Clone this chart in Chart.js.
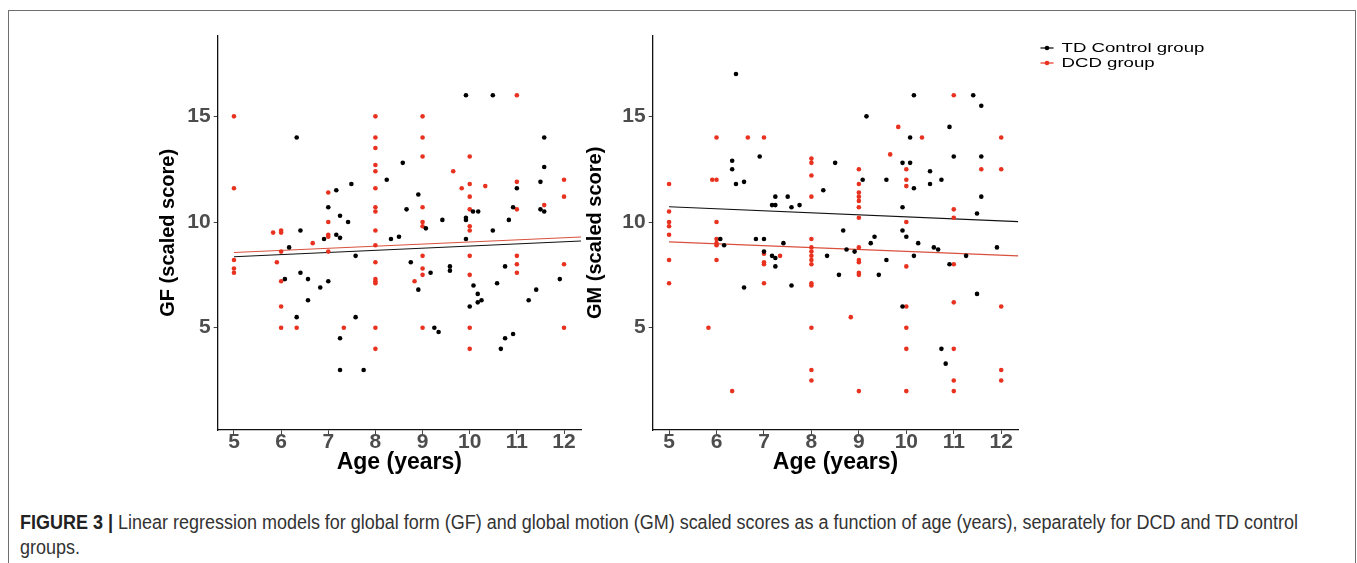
<!DOCTYPE html>
<html>
<head>
<meta charset="utf-8">
<script src="https://cdn.jsdelivr.net/npm/chart.js@4.4.1/dist/chart.umd.min.js"></script>
<style>
html,body{margin:0;padding:0;background:#fff;width:1357px;height:563px;overflow:hidden;}
#frame{position:absolute;left:8px;top:10px;width:1348px;height:620px;border:1px solid #6e6e6e;box-sizing:border-box;}
#w1{position:absolute;left:120px;top:20px;width:470px;height:470px;}
#w2{position:absolute;left:560px;top:20px;width:797px;height:470px;}
#caption{position:absolute;left:20px;top:510px;font-family:"Liberation Sans Narrow","Liberation Sans",Arial,sans-serif;font-size:20px;line-height:25px;color:#333;white-space:nowrap;}
#caption .ln{display:block;transform-origin:0 0;width:max-content;}
#caption b{color:#222;}
</style>
</head>
<body>
<div id="frame"></div>
<div id="w1"><canvas id="gf" width="470" height="470"></canvas></div>
<div id="w2"><canvas id="gm" width="797" height="470"></canvas></div>
<div id="caption">
  <span class="ln" id="cap1"><b>FIGURE 3 |</b> Linear regression models for global form (GF) and global motion (GM) scaled scores as a function of age (years), separately for DCD and TD control</span>
  <span class="ln" id="cap2">groups.</span>
</div>
<script>
// ---- data ----
const ageTicks = [5, 6, 7, 8, 9, 10, 11, 12];
const scoreTicks = [5, 10, 15];
const ageRange = [4.655, 12.36];
const scoreRange = [0.16, 18.82];
const seriesLabels = ['TD Control group', 'DCD group'];

// GF panel, TD control group
const gfTdAge = [9.92,10.49,6.33,11.58,11.58,8.58,8.24,7.49,7.17,8.91,7,7.25,7.42,8.66,9.42,9.92,9.92,10.07,10.18,10.92,10.83,11.5,11,11.5,11.58,6.41,10.49,9.07,7.17,7.25,8.5,8.33,6.91,9.92,6.17,6.08,6.41,6.57,6.83,7,6.57,6.33,7.58,7.58,7.25,7.25,7.75,8.75,9.17,8.91,9.58,9.58,9.25,9.34,10.08,10,10.17,10.17,10.25,10.58,10.75,10.66,10.75,10.92,11.25,11.41,11.91];
const gfTdScore = [16,16,14,14,12.6,12.8,12.0,11.8,11.5,11.3,10.7,10.3,10.0,10.6,10.1,10.2,10.1,10.5,10.5,10.7,10.1,11.9,11.6,10.6,10.5,9.6,9.6,9.7,9.4,9.25,9.3,9.2,9.2,9.2,8.8,7.3,7.6,7.3,6.9,7.2,6.3,5.5,8.4,5.5,4.5,3.0,3.0,8.1,7.6,6.8,7.9,7.7,5.0,4.8,7.0,6.0,6.6,6.2,6.3,7.1,7.9,4.0,4.5,4.7,6.3,6.8,7.3];
// GF panel, DCD group
const gfDcdAge = [5,5,8,8,8,8,8,8,8,8,8,9,9,9,9,9,9,9.65,9.83,10,10,10,10,10,10,10.33,11,11,11,12,12,11.58,7,7,7,7,5.83,6,6,5,5,5,6,5.91,6,6,6,6.33,6.67,7,7.33,8,8,8,8,8,8,8,8.83,9,9,9,9,10,10,10,10,11,11,11,12,12];
const gfDcdScore = [15,11.6,15,14,13.5,12.7,12.4,11.6,10.7,10.5,9.6,15,14,13.1,10.7,10.0,9.8,12.4,11.6,13.1,11.8,11.2,10.6,9.8,9.6,11.7,16,11.9,10.6,12.0,11.2,10.8,11.4,10.0,9.4,9.3,9.5,9.6,9.5,8.2,7.8,7.6,8.6,8.1,7.2,6.0,5.0,5.0,9.0,8.6,5.0,8.9,8.1,7.3,7.2,7.1,5,4,7.2,8.4,7.8,7.5,5,8.4,7.5,5,4,8.4,8.0,7.6,8.0,5.0];
// GM panel, TD control group
const gmTdAge = [6.41,10.16,11.41,11.58,9.16,10.91,10.08,6.33,6.33,6.41,6.58,6.91,8.5,8.25,9.08,9.58,9.92,10.08,10.16,10.5,10.5,10.74,11,11.58,11.58,11.49,7.24,7.5,7.17,7.24,7.58,7.75,9.92,8.67,9.33,9.92,10,6.08,6.16,6.58,6.83,7,7,7.17,7.24,7.24,7.41,7.58,8.33,8.58,8.74,8.91,9.25,9.42,9.58,9.92,10.16,10.25,10.58,10.67,10.91,11.26,11.49,11.91,10.74,10.83];
const gmTdScore = [17,16,16,15.5,15,14.5,14,12.9,12.5,11.8,11.9,13.1,12.8,11.5,12.0,12.0,12.8,12.8,11.6,12.4,11.8,12.0,13.1,13.1,11.2,10.4,11.2,11.2,10.8,10.8,10.7,10.8,10.7,9.6,9.3,9.6,9.3,9.2,8.9,6.9,9.2,9.2,8.6,8.4,8.3,7.9,9.0,7.0,8.4,7.5,8.7,8.6,9.0,7.5,8.2,6.0,8.4,9.0,8.8,8.7,8.0,8.4,6.6,8.8,4.0,3.3];
// GM panel, DCD group
const gmDcdAge = [5,5,5,5,5,6,5.91,6,6,6.66,7,8,8,8,8,9,9,9,9,9,9,9,9.83,9.66,10,10,10,10,10.33,11,11,11,12,12,11.58,5,5,6,6,6,6,5.83,6.33,7,7,7,7,7.34,8,8,8,8,8,8,8,8,8,8,8,9,9,9,9,9,9,8.83,10,10,10,10,10,11,11,11,11,11,12,12,12];
const gmDcdScore = [11.8,10.5,10.0,9.8,9.4,14,12,12,10.0,14,14,13.0,12.8,12.2,11.2,12.5,11.8,11.4,11.2,11.0,10.7,10.2,14.5,13.2,12.5,12,11.7,10,14,16,10.6,10.2,14,12.5,12.5,8.2,7.1,9.2,9.0,8.9,8.2,5.0,2.0,8.5,8.1,8.0,7.1,8.4,9.2,8.8,8.6,8.4,8.2,8.0,7.1,7.0,5,3.0,2.5,8.8,8.2,8.1,7.6,7.5,2.0,5.5,7.9,6.0,5,4,2,8.0,6.2,4,2.5,2.0,6.0,3.0,2.5];

// fitted regression lines (start and end of each line)
const fitAge = [5, 12.36];
const gfTdFit = [8.36, 9.10];
const gfDcdFit = [8.56, 9.29];
const gmTdFit = [10.72, 10.02];
const gmDcdFit = [9.06, 8.40];

// ---- styling ----
const FONT = "'Liberation Sans', Arial, Helvetica, sans-serif";
const BLACK = '#000000';
const RED = '#e8321f';
const RED_LINE = '#d9503c';
Chart.defaults.font.family = FONT;

function pts(xs, ys) {
  const n = Math.min(xs.length, ys.length);
  const out = [];
  for (let i = 0; i < n; i++) out.push({x: xs[i], y: ys[i]});
  return out;
}

function datasets(tdAge, tdScore, dcdAge, dcdScore, tdFit, dcdFit) {
  return [
    {label: seriesLabels[0] + ' fit', data: pts(fitAge, tdFit), showLine: true, borderColor: '#111', borderWidth: 1.1, pointRadius: 0, backgroundColor: '#111', order: 3},
    {label: seriesLabels[1] + ' fit', data: pts(fitAge, dcdFit), showLine: true, borderColor: RED_LINE, borderWidth: 1.1, pointRadius: 0, backgroundColor: RED_LINE, order: 3},
    {label: seriesLabels[0], legendItem: true, data: pts(tdAge, tdScore), pointRadius: 2.3, pointBorderWidth: 0, backgroundColor: BLACK, borderColor: BLACK, order: 1},
    {label: seriesLabels[1], legendItem: true, data: pts(dcdAge, dcdScore), pointRadius: 2.3, pointBorderWidth: 0, backgroundColor: RED, borderColor: RED, order: 2}
  ];
}

function scales(yTitle, yAxisWidth, yTitlePad) {
  const axisCommon = {
    type: 'linear',
    border: {display: true, color: '#111', width: 1.3},
    grid: {display: true, drawOnChartArea: false, drawTicks: true, tickLength: 4, tickColor: '#444', tickWidth: 1},
  };
  return {
    x: Object.assign({}, axisCommon, {
      min: ageRange[0], max: ageRange[1],
      afterBuildTicks: s => { s.ticks = ageTicks.map(v => ({value: v})); },
      afterFit: s => { s.height = 60; },
      ticks: {color: '#4d4d4d', padding: -4, autoSkip: false, maxRotation: 0, font: {size: 21, weight: 'bold'}},
      title: {display: true, text: 'Age (years)', color: '#000', font: {size: 23, weight: 'bold'}, padding: {top: 0, bottom: 14}}
    }),
    y: Object.assign({}, axisCommon, {
      min: scoreRange[0], max: scoreRange[1],
      afterBuildTicks: s => { s.ticks = scoreTicks.map(v => ({value: v})); },
      afterFit: s => { s.width = yAxisWidth; },
      ticks: {color: '#4d4d4d', padding: 3, font: {size: 21, weight: 'bold'}},
      title: {display: true, text: yTitle, color: '#000', font: {size: 20, weight: 'bold'}, padding: {top: yTitlePad, bottom: 0}}
    })
  };
}

const legendPlugin = {
  id: 'figLegend',
  afterDraw(chart, args, opts) {
    if (!opts || !opts.show) return;
    const ctx = chart.ctx;
    const items = chart.data.datasets.filter(d => d.legendItem);
    items.forEach((d, i) => {
      const y = opts.y + i * opts.spacing;
      ctx.save();
      ctx.strokeStyle = d.backgroundColor;
      ctx.lineWidth = 1.2;
      ctx.beginPath();
      ctx.moveTo(opts.x, y);
      ctx.lineTo(opts.x + 13, y);
      ctx.stroke();
      ctx.fillStyle = d.backgroundColor;
      ctx.beginPath();
      ctx.arc(opts.x + 6.5, y, 2.3, 0, Math.PI * 2);
      ctx.fill();
      ctx.fillStyle = '#000';
      ctx.font = '13.5px ' + FONT;
      ctx.textBaseline = 'middle';
      ctx.textAlign = 'left';
      ctx.translate(opts.x + 21, y + 0.5);
      ctx.scale(1.38, 1);
      ctx.fillText(d.label, 0, 0);
      ctx.restore();
    });
  }
};

function makeChart(id, ds, yTitle, yAxisWidth, yTitlePad, padRight, legend) {
  return new Chart(document.getElementById(id), {
    type: 'scatter',
    data: {datasets: ds},
    options: {
      responsive: false,
      animation: false,
      devicePixelRatio: 1,
      layout: {padding: {top: 11.7, right: padRight, bottom: 0, left: 0}},
      plugins: {legend: {display: false}, tooltip: {enabled: false}, figLegend: legend},
      scales: scales(yTitle, yAxisWidth, yTitlePad)
    },
    plugins: [legendPlugin]
  });
}

makeChart('gf', datasets(gfTdAge, gfTdScore, gfDcdAge, gfDcdScore, gfTdFit, gfDcdFit),
  'GF (scaled score)', 97.7, 36, 9, {show: false});
makeChart('gm', datasets(gmTdAge, gmTdScore, gmDcdAge, gmDcdScore, gmTdFit, gmDcdFit),
  'GM (scaled score)', 92.7, 23.8, 338.7, {show: true, x: 480.5, y: 28, spacing: 15});

function fitCaption() {
  const l1 = document.getElementById('cap1');
  const l2 = document.getElementById('cap2');
  l1.style.transform = 'none';
  const w = l1.getBoundingClientRect().width;
  const k = 1278 / w;
  l1.style.transform = 'scaleX(' + k + ')';
  l2.style.transform = 'scaleX(' + k + ')';
}
fitCaption();
if (document.fonts && document.fonts.ready) document.fonts.ready.then(fitCaption);
</script>
</body>
</html>
